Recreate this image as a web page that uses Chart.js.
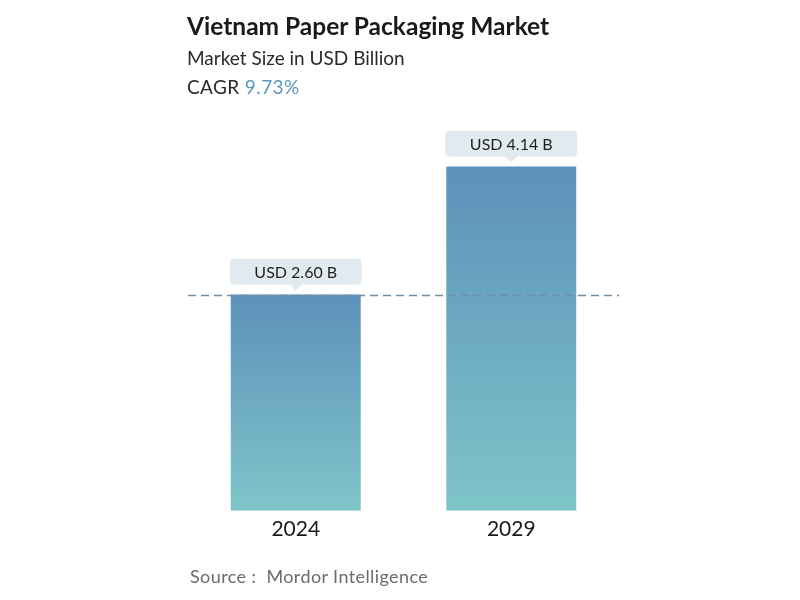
<!DOCTYPE html>
<html>
<head>
<meta charset="utf-8">
<script src="https://cdn.jsdelivr.net/npm/chart.js@4.4.1/dist/chart.umd.min.js"></script>
<style>
    html, body { margin: 0; padding: 0; background: #fff; }
    body { width: 800px; height: 600px; position: relative; overflow: hidden; font-family: Lato, "Noto Sans", sans-serif; }
    #chartWrap { position: absolute; left: 0; top: 0; width: 800px; height: 600px; }
    .title { position: absolute; left: 187px; top: 11px; font-size: 24.5px; font-weight: 700; color: #1a1a1a; }
    .subtitle { position: absolute; left: 187px; top: 46px; font-size: 19px; color: #2a2a2a; }
    .cagr { position: absolute; left: 187px; top: 75px; font-size: 19px; color: #2a2a2a; letter-spacing: 0.4px; }
    .cagr span { color: #5b98c2; }
    .source { position: absolute; left: 190px; top: 565px; font-size: 18px; color: #6b6b6b; letter-spacing: 0.4px; }
</style>
</head>
<body>
<div id="chartWrap"><canvas id="marketChart" width="800" height="600"></canvas></div>
<div class="title">Vietnam Paper Packaging Market</div>
<div class="subtitle">Market Size in USD Billion</div>
<div class="cagr">CAGR <span>9.73%</span></div>
<div class="source">Source :&nbsp; Mordor Intelligence</div>
<script>
// Chart data
const years = ['2024', '2029'];
const marketSize = [2.60, 4.14];
const valueLabels = ['USD 2.60 B', 'USD 4.14 B'];

// Gradient per bar, from its top down to the baseline
function barGradient(context) {
    const chart = context.chart;
    const yScale = chart.scales.y;
    if (!chart.chartArea || !yScale) return '#6aa6c0';
    const top = yScale.getPixelForValue(context.raw);
    const bottom = yScale.getPixelForValue(0);
    const g = chart.ctx.createLinearGradient(0, top, 0, bottom);
    g.addColorStop(0, '#5d91ba');
    g.addColorStop(1, '#7ec5c9');
    return g;
}

// Dashed reference line at the first bar's height
const dashedLine = {
    id: 'dashedLine',
    afterDatasetsDraw(chart) {
        const { ctx, chartArea, scales } = chart;
        const y = Math.round(scales.y.getPixelForValue(marketSize[0])) + 0.5;
        ctx.save();
        ctx.strokeStyle = '#7190a8';
        ctx.lineWidth = 1.5;
        ctx.setLineDash([8, 5]);
        ctx.beginPath();
        ctx.moveTo(chartArea.left, y);
        ctx.lineTo(chartArea.right, y);
        ctx.stroke();
        ctx.restore();
    }
};

// Callout boxes above bars
const valueCallouts = {
    id: 'valueCallouts',
    afterDatasetsDraw(chart) {
        const { ctx } = chart;
        const meta = chart.getDatasetMeta(0);
        meta.data.forEach((bar, i) => {
            const w = bar.width + 2;
            const h = 26;
            const x = bar.x - w / 2;
            const y = bar.y - 10 - h;
            const r = 5;
            ctx.save();
            ctx.fillStyle = '#e1eaee';
            ctx.beginPath();
            ctx.moveTo(x + r, y);
            ctx.lineTo(x + w - r, y);
            ctx.quadraticCurveTo(x + w, y, x + w, y + r);
            ctx.lineTo(x + w, y + h - r);
            ctx.quadraticCurveTo(x + w, y + h, x + w - r, y + h);
            ctx.lineTo(bar.x + 6, y + h);
            ctx.lineTo(bar.x, y + h + 6);
            ctx.lineTo(bar.x - 6, y + h);
            ctx.lineTo(x + r, y + h);
            ctx.quadraticCurveTo(x, y + h, x, y + h - r);
            ctx.lineTo(x, y + r);
            ctx.quadraticCurveTo(x, y, x + r, y);
            ctx.closePath();
            ctx.fill();
            ctx.fillStyle = '#1e1e1e';
            ctx.font = '16px Lato, "Noto Sans", sans-serif';
            ctx.textAlign = 'center';
            ctx.textBaseline = 'middle';
            ctx.fillText(valueLabels[i], bar.x, y + h / 2 + 1);
            ctx.restore();
        });
    }
};

new Chart(document.getElementById('marketChart'), {
    type: 'bar',
    data: {
        labels: years,
        datasets: [{
            data: marketSize,
            backgroundColor: barGradient,
            borderWidth: 0,
            barPercentage: 1,
            categoryPercentage: 0.603
        }]
    },
    options: {
        responsive: false,
        animation: false,
        layout: {
            padding: { left: 188, right: 181, top: 95, bottom: 52 }
        },
        plugins: {
            legend: { display: false },
            tooltip: { enabled: false }
        },
        scales: {
            x: {
                grid: { display: false, drawTicks: false },
                border: { display: false },
                ticks: {
                    color: '#1a1a1a',
                    padding: 6,
                    font: { family: 'Lato, "Noto Sans", sans-serif', size: 21 }
                }
            },
            y: {
                display: false,
                min: 0,
                max: 5
            }
        }
    },
    plugins: [dashedLine, valueCallouts]
});
</script>
</body>
</html>
